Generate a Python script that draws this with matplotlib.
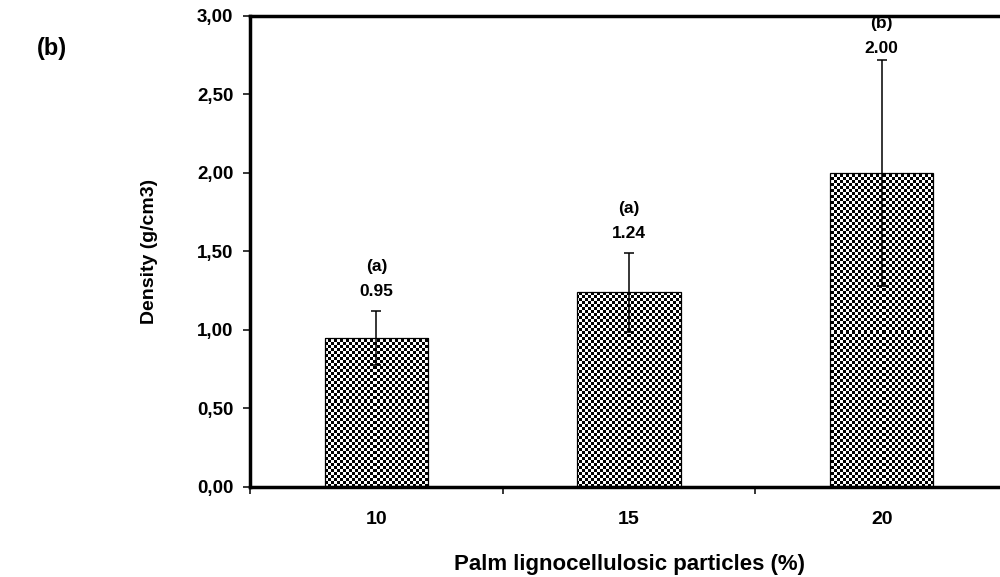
import numpy as np
import matplotlib.pyplot as plt

categories = ['10', '15', '20']
density = [0.95, 1.24, 2.00]
density_err = [0.17, 0.25, 0.72]
value_labels = ['0.95', '1.24', '2.00']
group_labels = ['(a)', '(a)', '(b)']
yticks = [0.0, 0.5, 1.0, 1.5, 2.0, 2.5, 3.0]

plt.rcParams['font.family'] = ['Liberation Sans', 'DejaVu Sans']
plt.rcParams['font.weight'] = 'bold'

fig = plt.figure(figsize=(10, 5.77), dpi=100)
ax = fig.add_axes([0.25, 0.156, 0.758, 0.8163])

x = np.arange(len(categories))
bars = ax.bar(x, density, width=0.41, color='white', edgecolor='none', zorder=2)

# checkerboard fill clipped to each bar
checker = np.indices((157, 253)).sum(axis=0) % 2
for b in bars:
    im = ax.imshow(checker, cmap='gray', extent=(-0.5, 2.5, 0, 3), aspect='auto',
                   interpolation='nearest', zorder=2.5)
    im.set_clip_path(b)
ax.bar(x, density, width=0.41, facecolor='none', edgecolor='black', linewidth=0.9, zorder=3)
ax.errorbar(x, density, yerr=density_err, fmt='none', ecolor='black',
            elinewidth=1.1, capsize=3.6, capthick=1.1, zorder=4)

ax.set_xlim(-0.5, 2.5)
ax.set_ylim(0, 3)

# labels above the error bars
offsets = [14, 14, 8]
for xi, m, e, vl, gl, off in zip(x, density, density_err, value_labels, group_labels, offsets):
    ax.annotate(vl, (xi, m + e), xytext=(0, off), textcoords='offset points',
                ha='center', va='center', fontsize=12.5, fontweight='bold', annotation_clip=False)
    ax.annotate(gl, (xi, m + e), xytext=(0, off + 18), textcoords='offset points',
                ha='center', va='center', fontsize=12.5, fontweight='bold', annotation_clip=False)

ax.set_xticks(x, categories)
ax.set_xticks([-0.5, 0.5, 1.5, 2.5], minor=True)
ax.tick_params(axis='x', which='major', length=0, pad=17.5, labelsize=14)
ax.tick_params(axis='x', which='minor', length=5, width=1.1, direction='out')
ax.set_yticks(yticks, [f'{v:.2f}'.replace('.', ',') for v in yticks])
ax.tick_params(axis='y', length=5, width=1.1, direction='out', pad=7, labelsize=13.5)

for s in ax.spines.values():
    s.set_linewidth(2.5)

fig.text(0.629, 1 - 570 / 577, 'Palm lignocellulosic particles (%)', ha='center',
         va='baseline', fontsize=16, fontweight='bold')
fig.text(0.150, 1 - 251 / 577, 'Density (g/cm3)', rotation=90, ha='center',
         va='center', fontsize=14, fontweight='bold')
fig.text(0.037, 1 - 48 / 577, '(b)', ha='left', va='center', fontsize=17, fontweight='bold')

fig.savefig('out.png', dpi=100)
